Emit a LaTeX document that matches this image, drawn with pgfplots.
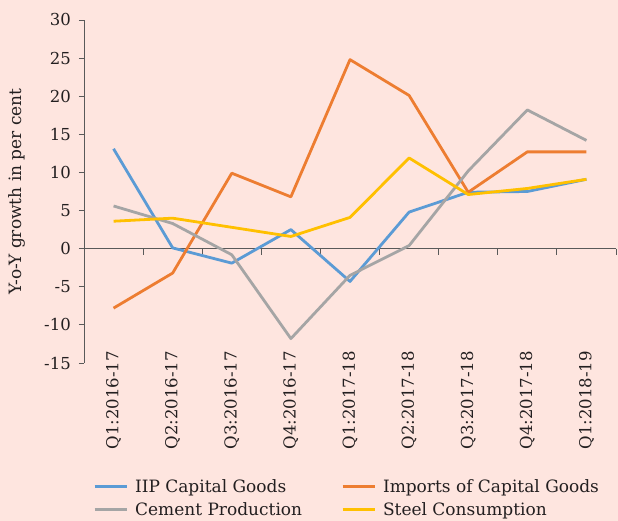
\documentclass[border=0pt]{standalone}
\usepackage{pgfplots}
\pgfplotsset{compat=1.18}
\usepackage{fontspec}
\setmainfont{DejaVu Serif}
\definecolor{bg}{HTML}{FEE5DF}
\definecolor{cblue}{HTML}{5B9BD5}
\definecolor{corange}{HTML}{ED7D31}
\definecolor{cgray}{HTML}{A5A5A5}
\definecolor{cyellow}{HTML}{FFC000}
\definecolor{axgray}{HTML}{595959}
\definecolor{txt}{HTML}{231F20}
\begin{document}
\begin{tikzpicture}
\fill[bg] (-84pt,-158pt) rectangle (534pt,363pt);
\begin{axis}[
  scale only axis, width=532pt, height=343pt,
  at={(0pt,0pt)}, anchor=south west,
  xmin=-0.5, xmax=8.5, ymin=-15, ymax=30,
  axis y line*=left, axis x line*=bottom,
  x axis line style={draw=none},
  y axis line style={axgray, line width=0.9pt},
  xtick={0,...,8},
  xticklabels={Q1:2016-17,Q2:2016-17,Q3:2016-17,Q4:2016-17,Q1:2017-18,Q2:2017-18,Q3:2017-18,Q4:2017-18,Q1:2018-19},
  xtick style={draw=none},
  xticklabel style={yshift=12pt, rotate=90, anchor=east, inner sep=0pt, font=\fontsize{16.5}{19}\selectfont, text=txt},
  ytick={-15,-10,...,30},
  ytick align=outside, major tick length=5pt,
  ytick style={axgray, line width=0.9pt},
  yticklabel style={font=\fontsize{16.5}{19}\selectfont, text=txt, inner sep=0pt, xshift=-8pt},
  /pgf/number format/assume math mode=true,
  ylabel={Y-o-Y growth in per cent},
  every axis y label/.style={at={(rel axis cs:0,0.5)}, xshift=-67pt, rotate=90, anchor=center, font=\fontsize{17}{20}\selectfont, text=txt},
  clip=false,
  legend columns=2,
  legend style={at={(9pt,-135pt)}, anchor=west, draw=none, fill=none,
    font=\fontsize{17}{20}\selectfont, text=txt,
    /tikz/every even column/.append style={column sep=37pt},
    row sep=5pt, inner sep=0pt},
  legend cell align=left,
  legend image code/.code={\draw[#1, line width=3pt] (0pt,0pt) -- (32pt,0pt); \path (37pt,0pt);},
  every axis plot/.append style={line width=2.8pt, line join=round},
]
\draw[axgray, line width=0.9pt] (axis cs:-0.5,0) -- (axis cs:8.5,0);
\pgfplotsinvokeforeach{0.5,1.5,2.5,3.5,4.5,5.5,6.5,7.5,8.5}{\draw[axgray, line width=0.9pt] (axis cs:#1,0) -- ++(0pt,-6pt);}
\addplot[cblue] coordinates {(0,13.1) (1,0.1) (2,-1.9) (3,2.5) (4,-4.3) (5,4.8) (6,7.4) (7,7.5) (8,9.1)};
\addlegendentry{IIP Capital Goods}
\addplot[corange] coordinates {(0,-7.8) (1,-3.2) (2,9.9) (3,6.8) (4,24.8) (5,20.1) (6,7.4) (7,12.7) (8,12.7)};
\addlegendentry{Imports of Capital Goods}
\addplot[cgray] coordinates {(0,5.6) (1,3.3) (2,-0.8) (3,-11.8) (4,-3.5) (5,0.4) (6,10.2) (7,18.2) (8,14.2)};
\addlegendentry{Cement Production}
\addplot[cyellow] coordinates {(0,3.6) (1,4.0) (2,2.8) (3,1.6) (4,4.1) (5,11.9) (6,7.1) (7,7.9) (8,9.1)};
\addlegendentry{Steel Consumption}
\end{axis}
\pgfresetboundingbox
\path[use as bounding box] (-84pt,-158pt) rectangle (534pt,363pt);
\end{tikzpicture}
\end{document}
